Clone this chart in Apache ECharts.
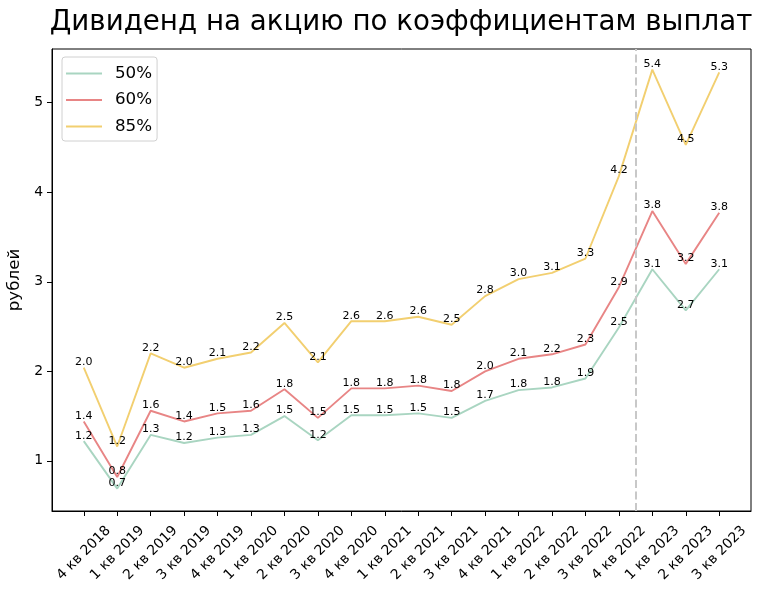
<!DOCTYPE html>
<html><head><meta charset="utf-8">
<script src="https://cdn.jsdelivr.net/npm/echarts@6/dist/echarts.min.js"></script>
<style>html,body{margin:0;padding:0;background:#fff}#c{width:762px;height:593px}</style>
</head><body><div id="c"></div>
<script>
const categories = ['4 кв 2018','1 кв 2019','2 кв 2019','3 кв 2019','4 кв 2019','1 кв 2020','2 кв 2020','3 кв 2020','4 кв 2020','1 кв 2021','2 кв 2021','3 кв 2021','4 кв 2021','1 кв 2022','2 кв 2022','3 кв 2022','4 кв 2022','1 кв 2023','2 кв 2023','3 кв 2023'];
const payout50 = [1.22, 0.69, 1.29, 1.20, 1.26, 1.29, 1.50, 1.23, 1.51, 1.51, 1.53, 1.48, 1.67, 1.79, 1.82, 1.92, 2.49, 3.14, 2.68, 3.14];
const payout60 = [1.44, 0.82, 1.56, 1.44, 1.53, 1.56, 1.80, 1.48, 1.81, 1.81, 1.84, 1.78, 2.00, 2.14, 2.19, 2.30, 2.94, 3.79, 3.20, 3.77];
const payout85 = [2.04, 1.16, 2.20, 2.04, 2.14, 2.21, 2.54, 2.10, 2.56, 2.56, 2.61, 2.52, 2.84, 3.03, 3.10, 3.26, 4.18, 5.37, 4.53, 5.34];
const seriesNames = ['50%', '60%', '85%'];
const yTicks = [1, 2, 3, 4, 5];
const dividerPosition = 16.5;

const F = 'DejaVu Sans';
const colors = ['#a9d5c1', '#e88585', '#f2cf70'];
const idx = categories.map((_, i) => i);

function mk(name, vals, color, withMark) {
  const s = {
    name, type: 'line', data: vals.map((v, i) => [i, v]),
    symbol: 'circle', symbolSize: 0, showSymbol: true,
    lineStyle: { color, width: 1.9 }, itemStyle: { color },
    label: { show: true, position: 'top', distance: 0, color: '#000', fontSize: 11, fontFamily: F,
      formatter: p => p.value[1].toFixed(1) },
    emphasis: { disabled: true }, animation: false
  };
  if (withMark) {
    s.markLine = { silent: true, symbol: 'none', label: { show: false },
      lineStyle: { color: '#c8c8c8', type: [8, 3.5], width: 2 },
      data: [{ xAxis: dividerPosition }], animation: false };
  }
  return s;
}

const chart = echarts.init(document.getElementById('c'), null, { renderer: 'canvas' });
chart.setOption({
  animation: false,
  backgroundColor: '#fff',
  title: { text: 'Дивиденд на акцию по коэффициентам выплат', left: 401, top: 9, textAlign: 'center', padding: 0,
    textStyle: { fontFamily: F, fontSize: 27.7, fontWeight: 'normal', color: '#000' } },
  legend: { orient: 'vertical', left: 62, top: 57, padding: [8, 5, 6, 4], itemGap: 9.5,
    itemWidth: 36, itemHeight: 2, icon: 'rect',
    borderColor: '#d0d0d0', borderWidth: 1, borderRadius: 3, backgroundColor: 'rgba(255,255,255,0.8)',
    textStyle: { fontFamily: F, fontSize: 16.7, color: '#000', padding: [0, 0, 0, 8], lineHeight: 17 },
    data: seriesNames },
  grid: { left: 52, right: 11, top: 49, bottom: 82, outerBoundsMode: 'none', containLabel: false,
    show: true, borderColor: '#000', borderWidth: 1, backgroundColor: 'transparent' },
  xAxis: { type: 'value', min: -0.95, max: 19.95, splitLine: { show: false },
    axisLine: { show: true, onZero: false, lineStyle: { color: '#000', width: 1 } },
    axisTick: { show: true, customValues: idx, length: 5, lineStyle: { color: '#000' } },
    axisLabel: { customValues: idx, formatter: v => categories[Math.round(v)] || '', rotate: 45,
      align: 'center', verticalAlign: 'middle', margin: 42, fontFamily: F, fontSize: 13.9, color: '#000' } },
  yAxis: { type: 'value', min: 0.44, max: 5.6, splitLine: { show: false },
    name: 'рублей', nameLocation: 'middle', nameRotate: 90, nameGap: 27,
    nameTextStyle: { fontFamily: F, fontSize: 16.7, color: '#000' },
    axisLine: { show: true, onZero: false, lineStyle: { color: '#000', width: 1 } },
    axisTick: { show: true, customValues: yTicks, length: 5, lineStyle: { color: '#000' } },
    axisLabel: { customValues: yTicks, margin: 9, fontFamily: F, fontSize: 13.9, color: '#000' } },
  series: [
    mk(seriesNames[0], payout50, colors[0], true),
    mk(seriesNames[1], payout60, colors[1], false),
    mk(seriesNames[2], payout85, colors[2], false)
  ]
});
</script></body></html>
